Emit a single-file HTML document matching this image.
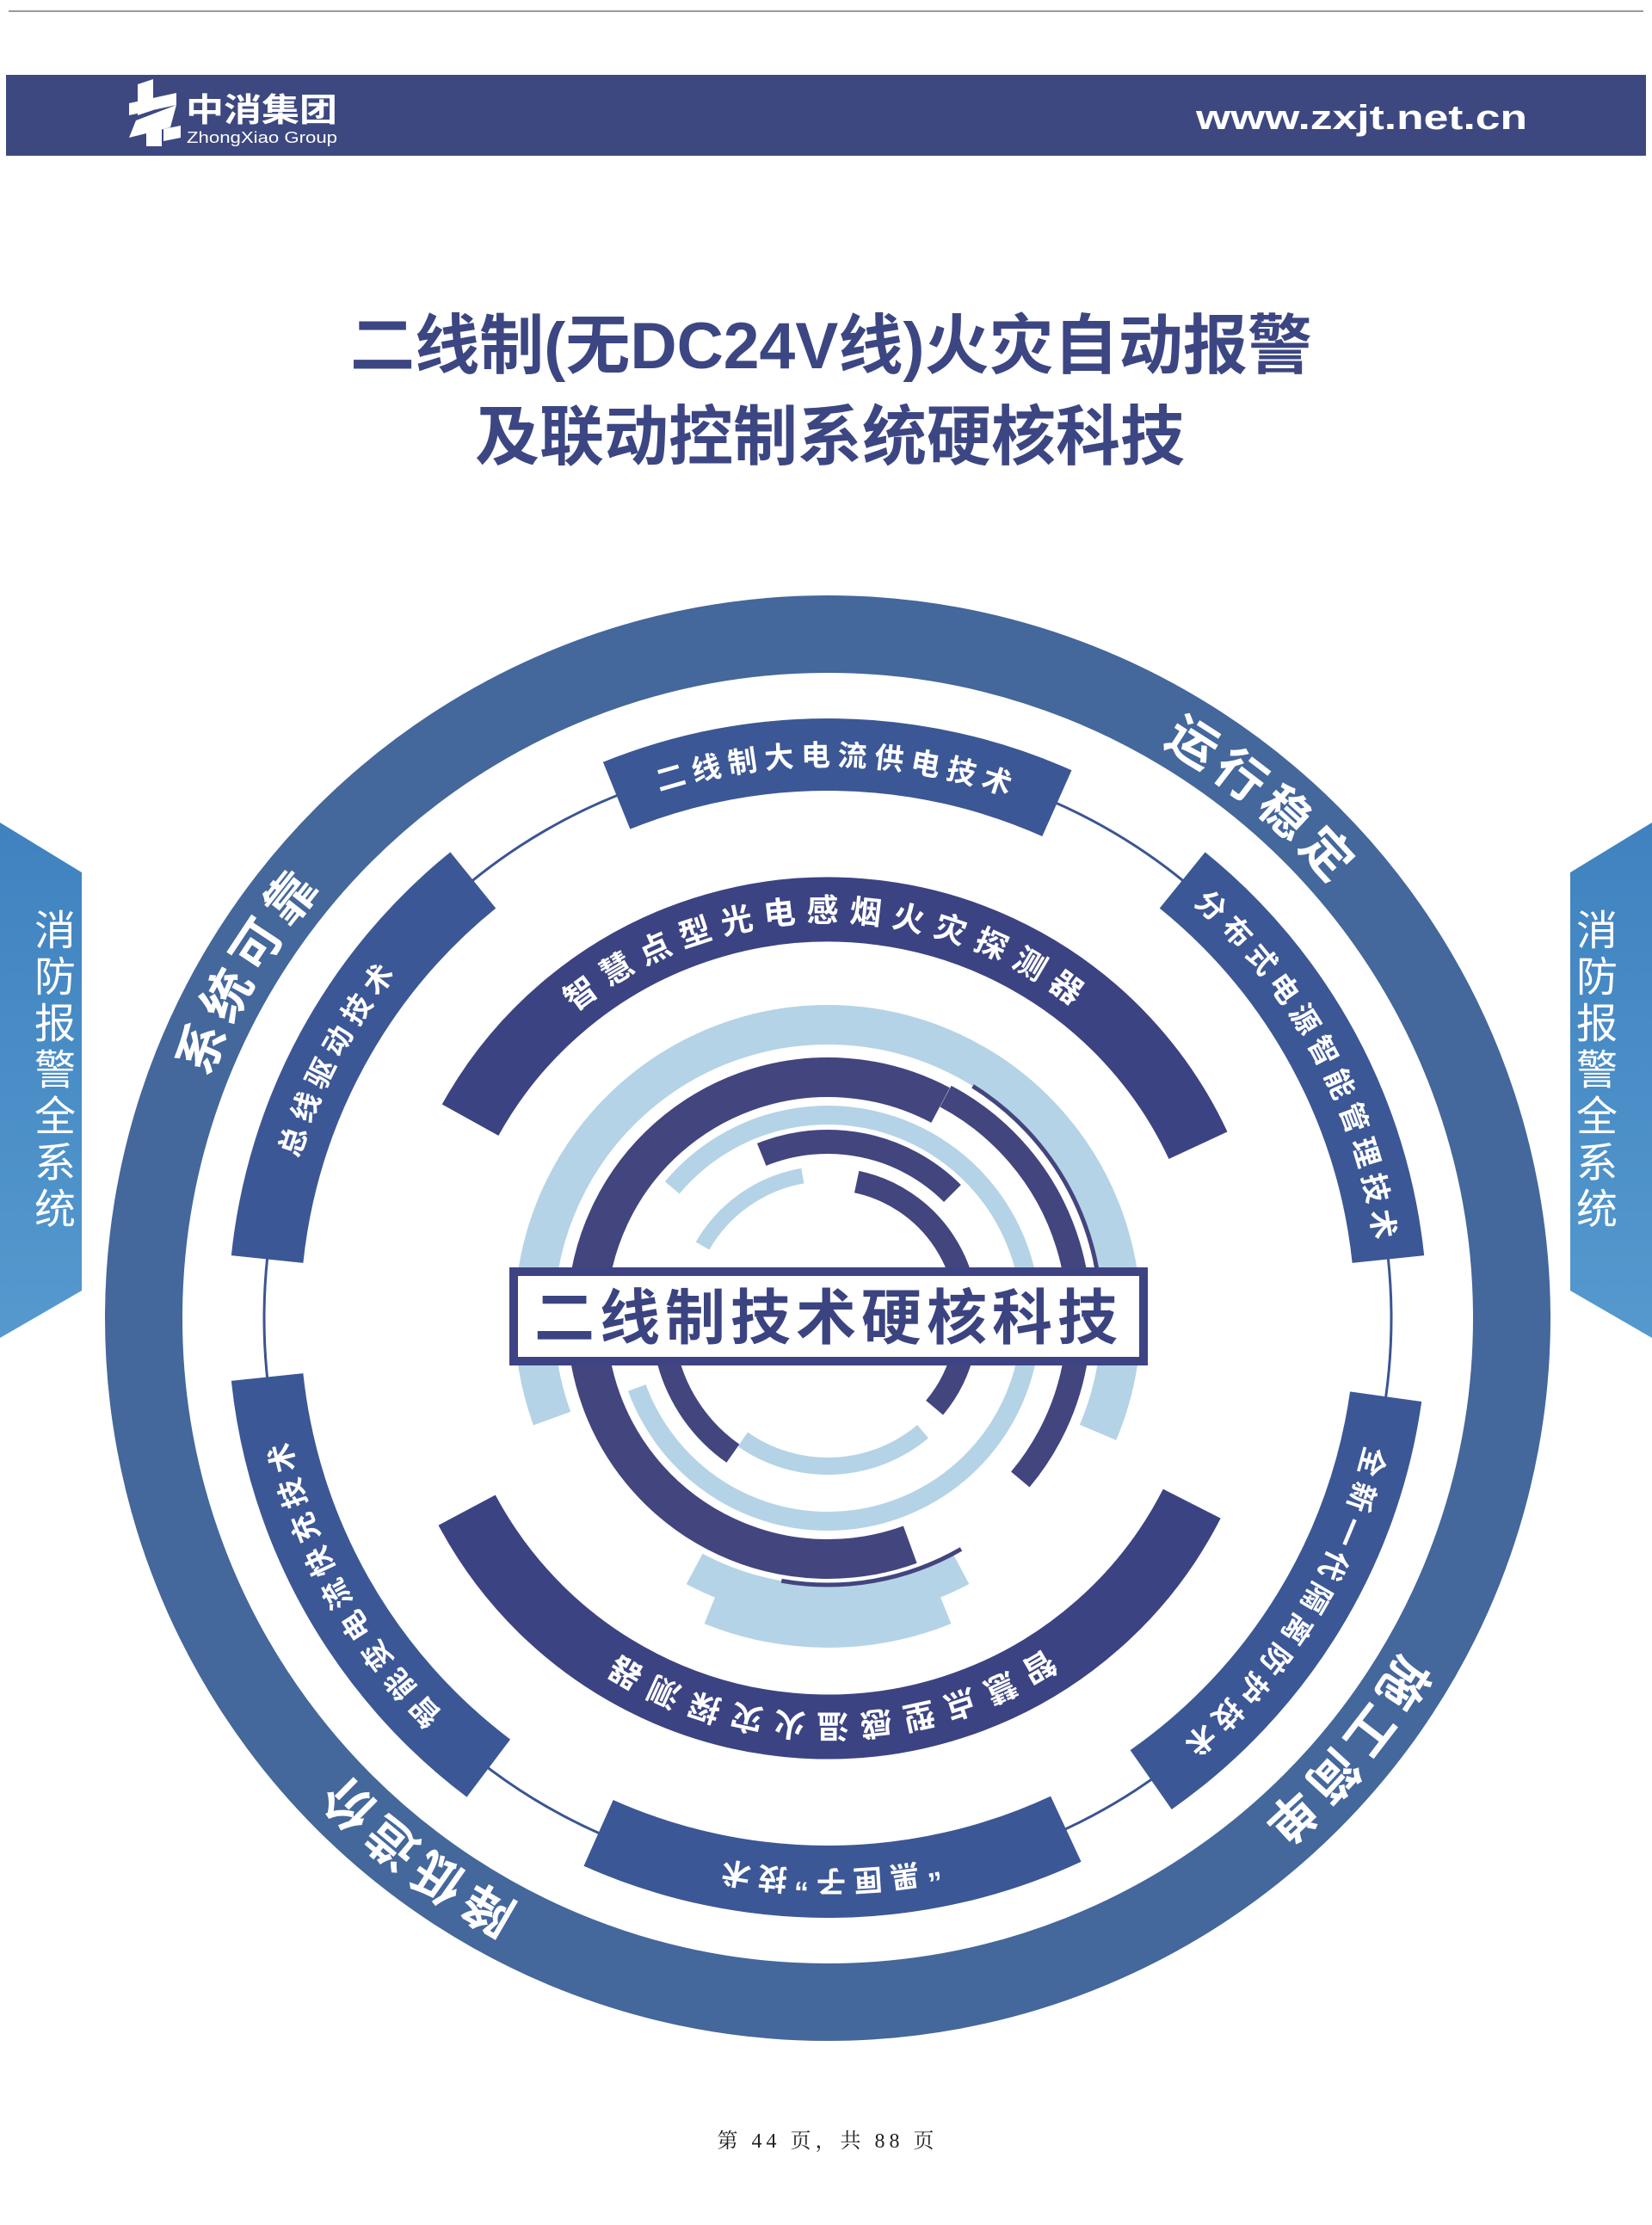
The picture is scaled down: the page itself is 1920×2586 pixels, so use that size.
<!DOCTYPE html>
<html><head><meta charset="utf-8"><style>
html,body{margin:0;padding:0;background:#fff;}
svg{display:block;}
text{font-family:"Liberation Sans","Noto Sans CJK SC",sans-serif;}
</style></head><body>
<svg width="1920" height="2586" viewBox="0 0 1920 2586" xmlns="http://www.w3.org/2000/svg">
<defs>
<path id="p772" d="M1734 1532 A772 772 0 1 1 190 1532 A772 772 0 1 1 1734 1532"/>
<path id="p642" d="M1604 1532 A642 642 0 1 1 320 1532 A642 642 0 1 1 1604 1532"/>
<path id="p461" d="M1423 1532 A461 461 0 1 1 501 1532 A461 461 0 1 1 1423 1532"/>
<linearGradient id="tab" x1="0" y1="0" x2="0" y2="1"><stop offset="0" stop-color="#3f82bf"/><stop offset="1" stop-color="#5599cf"/></linearGradient>
</defs>
<rect width="1920" height="2586" fill="#fff"/>
<line x1="10" y1="13" x2="1910" y2="13" stroke="#9a9a9a" stroke-width="2"/>
<rect x="7" y="87" width="1906" height="94" fill="#3d4880"/>
<g fill="#fff">
<polygon points="160,98 178,92 178,128 160,134"/>
<polygon points="150,120 205,108 205,122 150,134"/>
<polygon points="158,140 205,122 198,148 150,160"/>
<polygon points="170,150 188,144 188,170 170,170"/>
<polygon points="190,150 210,146 210,160 190,164"/>
</g>
<text x="216" y="141" font-size="38" font-weight="bold" fill="#fff" textLength="176" lengthAdjust="spacingAndGlyphs">中消集团</text>
<text x="217" y="166" font-size="18" fill="#fff" textLength="175" lengthAdjust="spacingAndGlyphs">ZhongXiao Group</text>
<text x="1390" y="150" font-size="40" font-weight="bold" fill="#fff" textLength="385" lengthAdjust="spacingAndGlyphs">www.zxjt.net.cn</text>
<text x="407" y="428" font-size="76" font-weight="bold" fill="#3c4682" textLength="1118" lengthAdjust="spacingAndGlyphs">二线制(无DC24V线)火灾自动报警</text>
<text x="552" y="534" font-size="76" font-weight="bold" fill="#3c4682" textLength="825" lengthAdjust="spacingAndGlyphs">及联动控制系统硬核科技</text>
<polygon points="0,956 95,1014 95,1500 0,1555" fill="url(#tab)"/>
<polygon points="1920,956 1825,1014 1825,1500 1920,1555" fill="url(#tab)"/>
<g font-size="48" fill="#fff" text-anchor="middle">
<text x="64" y="1098">消</text><text x="64" y="1152">防</text><text x="64" y="1206">报</text><text x="64" y="1260">警</text><text x="64" y="1314">全</text><text x="64" y="1368">系</text><text x="64" y="1422">统</text>
<text x="1856" y="1098">消</text><text x="1856" y="1152">防</text><text x="1856" y="1206">报</text><text x="1856" y="1260">警</text><text x="1856" y="1314">全</text><text x="1856" y="1368">系</text><text x="1856" y="1422">统</text>
</g>
<circle cx="962" cy="1532" r="795" fill="none" stroke="#44679c" stroke-width="90"/>
<circle cx="962" cy="1532" r="655" fill="none" stroke="#3b5592" stroke-width="3"/>
<g fill="none" stroke="#3c5796" stroke-width="84">
<circle cx="962" cy="1532" r="655" pathLength="360" stroke-dasharray="46 400" transform="rotate(-112 962 1532)"/>
<circle cx="962" cy="1532" r="655" pathLength="360" stroke-dasharray="45 400" transform="rotate(-51 962 1532)"/>
<circle cx="962" cy="1532" r="655" pathLength="360" stroke-dasharray="47 400" transform="rotate(8 962 1532)"/>
<circle cx="962" cy="1532" r="655" pathLength="360" stroke-dasharray="49 400" transform="rotate(65 962 1532)"/>
<circle cx="962" cy="1532" r="655" pathLength="360" stroke-dasharray="47 400" transform="rotate(127 962 1532)"/>
<circle cx="962" cy="1532" r="655" pathLength="360" stroke-dasharray="45 400" transform="rotate(-174 962 1532)"/>
</g>
<g fill="none" stroke="#3b4383">
<circle cx="962" cy="1532" r="475" stroke-width="75" pathLength="360" stroke-dasharray="126 400" transform="rotate(-151 962 1532)"/>
<circle cx="962" cy="1532" r="475" stroke-width="75" pathLength="360" stroke-dasharray="125 400" transform="rotate(-333 962 1532)"/>
</g>
<g fill="none">
<circle cx="962" cy="1532" r="341" stroke="#b5d3e6" stroke-width="46" pathLength="360" stroke-dasharray="223 400" transform="rotate(-200 962 1532)"/>
<circle cx="962" cy="1532" r="330" stroke="#b5d3e6" stroke-width="40" pathLength="360" stroke-dasharray="56 400" transform="rotate(62 962 1532)"/>
<circle cx="962" cy="1532" r="365" stroke="#b5d3e6" stroke-width="36" pathLength="360" stroke-dasharray="44 400" transform="rotate(68 962 1532)"/>
<circle cx="962" cy="1532" r="236" stroke="#b5d3e6" stroke-width="22" pathLength="360" stroke-dasharray="300 400" transform="rotate(-140 962 1532)"/>
<circle cx="962" cy="1532" r="280" stroke="#43457f" stroke-width="46" pathLength="360" stroke-dasharray="228 400" transform="rotate(-290 962 1532)"/>
<circle cx="962" cy="1532" r="292" stroke="#43457f" stroke-width="28" pathLength="360" stroke-dasharray="102 400" transform="rotate(-62 962 1532)"/>
<circle cx="962" cy="1532" r="318" stroke="#43457f" stroke-width="5" pathLength="360" stroke-dasharray="60 400" transform="rotate(-58 962 1532)"/>
<circle cx="962" cy="1532" r="310" stroke="#43457f" stroke-width="5" pathLength="360" stroke-dasharray="40 400" transform="rotate(60 962 1532)"/>
<circle cx="962" cy="1532" r="205" stroke="#43457f" stroke-width="28" pathLength="360" stroke-dasharray="67 400" transform="rotate(-112 962 1532)"/>
<circle cx="962" cy="1532" r="192" stroke="#43457f" stroke-width="26" pathLength="360" stroke-dasharray="45 400" transform="rotate(-235 962 1532)"/>
<circle cx="962" cy="1532" r="162" stroke="#43457f" stroke-width="26" pathLength="360" stroke-dasharray="118 400" transform="rotate(-78 962 1532)"/>
<circle cx="962" cy="1532" r="168" stroke="#b5d3e6" stroke-width="18" pathLength="360" stroke-dasharray="50 400" transform="rotate(-150 962 1532)"/>
<circle cx="962" cy="1532" r="172" stroke="#b5d3e6" stroke-width="20" pathLength="360" stroke-dasharray="75 400" transform="rotate(50 962 1532)"/>
</g>
<rect x="597" y="1478" width="732" height="104" fill="#fff" stroke="#3d4383" stroke-width="10"/>
<text x="963" y="1556" font-size="70" font-weight="bold" fill="#3b4480" text-anchor="middle" letter-spacing="6">二线制技术硬核科技</text>
<g font-size="58" font-weight="bold" fill="#fff" letter-spacing="8">
<g transform="rotate(-140 962 1532)"><text text-anchor="middle"><textPath href="#p772" startOffset="25%">运行稳定</textPath></text></g>
<g transform="rotate(-239 962 1532)"><text text-anchor="middle"><textPath href="#p772" startOffset="25%">系统可靠</textPath></text></g>
<g transform="rotate(-322.5 962 1532)"><text text-anchor="middle"><textPath href="#p772" startOffset="25%">降低造价</textPath></text></g>
<g transform="rotate(-50 962 1532)"><text text-anchor="middle"><textPath href="#p772" startOffset="25%">施工简单</textPath></text></g>
</g>
<g font-size="34" font-weight="bold" fill="#fff" letter-spacing="8">
<g transform="rotate(-179 962 1532)"><text text-anchor="middle"><textPath href="#p642" startOffset="25%">二线制大电流供电技术</textPath></text></g>
<g transform="rotate(-118 962 1532)"><text text-anchor="middle"><textPath href="#p642" startOffset="25%">分布式电源智能管理技术</textPath></text></g>
<g transform="rotate(-58 962 1532)"><text text-anchor="middle"><textPath href="#p642" startOffset="25%">全新一代隔离防护技术</textPath></text></g>
<g transform="rotate(0 962 1532)"><text text-anchor="middle"><textPath href="#p642" startOffset="25%">“黑匣子”技术</textPath></text></g>
<g transform="rotate(-299 962 1532)"><text text-anchor="middle"><textPath href="#p642" startOffset="25%">智能变电流快充技术</textPath></text></g>
<g transform="rotate(-242 962 1532)"><text text-anchor="middle"><textPath href="#p642" startOffset="25%">总线驱动技术</textPath></text></g>
</g>
<g font-size="37" font-weight="bold" fill="#fff" letter-spacing="12">
<g transform="rotate(-180 962 1532)"><text text-anchor="middle"><textPath href="#p461" startOffset="25%">智慧点型光电感烟火灾探测器</textPath></text></g>
<g transform="rotate(0 962 1532)"><text text-anchor="middle"><textPath href="#p461" startOffset="25%">智慧点型感温火灾探测器</textPath></text></g>
</g>
<text x="962" y="2496" font-size="24" fill="#222" text-anchor="middle" letter-spacing="5" style="font-family:'Liberation Serif','Noto Serif CJK SC',serif">第 44 页，共 88 页</text>
</svg>
</body></html>
